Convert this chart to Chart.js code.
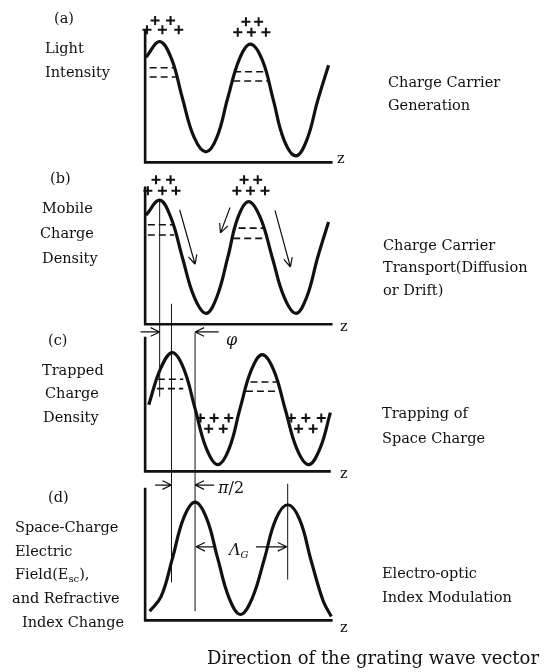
<!DOCTYPE html>
<html>
<head>
<meta charset="utf-8">
<script src="https://cdn.jsdelivr.net/npm/chart.js@4.4.1/dist/chart.umd.min.js"></script>
<style>
    html, body { margin: 0; padding: 0; background: #fff; }
    #wrap { position: relative; width: 549px; height: 672px; overflow: hidden; }
    #wrap canvas { position: absolute; left: 0; top: 0; }
    .t { position: absolute; transform: translateY(-50%); white-space: nowrap;
         font-family: "DejaVu Serif", serif; font-size: 14.5px; color: #111; line-height: 1; }
    .big { font-size: 16px; }
    .foot { font-size: 18px; }
    sub { font-size: 10px; vertical-align: -3px; }
</style>
</head>
<body>
<div id="wrap">
    <canvas id="fig" width="549" height="672"></canvas>

    <!-- nhãn bên trái -->
    <div class="t" style="left:54px;top:18px">(a)</div>
    <div class="t" style="left:45px;top:48px">Light</div>
    <div class="t" style="left:45px;top:72px">Intensity</div>

    <div class="t" style="left:50px;top:178px">(b)</div>
    <div class="t" style="left:42px;top:208px">Mobile</div>
    <div class="t" style="left:40px;top:233px">Charge</div>
    <div class="t" style="left:42px;top:258px">Density</div>

    <div class="t" style="left:48px;top:340px">(c)</div>
    <div class="t" style="left:42px;top:370px">Trapped</div>
    <div class="t" style="left:45px;top:393px">Charge</div>
    <div class="t" style="left:43px;top:417px">Density</div>

    <div class="t" style="left:48px;top:497px">(d)</div>
    <div class="t" style="left:15px;top:527px">Space-Charge</div>
    <div class="t" style="left:15px;top:551px">Electric</div>
    <div class="t" style="left:15px;top:575px">Field(E<sub>sc</sub>),</div>
    <div class="t" style="left:12px;top:598px">and Refractive</div>
    <div class="t" style="left:22px;top:622px">Index Change</div>

    <!-- nhãn bên phải -->
    <div class="t" style="left:388px;top:82px">Charge Carrier</div>
    <div class="t" style="left:388px;top:105px">Generation</div>
    <div class="t" style="left:383px;top:245px">Charge Carrier</div>
    <div class="t" style="left:383px;top:267px">Transport(Diffusion</div>
    <div class="t" style="left:383px;top:290px">or Drift)</div>
    <div class="t" style="left:382px;top:413px">Trapping of</div>
    <div class="t" style="left:382px;top:438px">Space Charge</div>
    <div class="t" style="left:382px;top:573px">Electro-optic</div>
    <div class="t" style="left:382px;top:597px">Index Modulation</div>

    <!-- trục z -->
    <div class="t" style="left:337px;top:158px">z</div>
    <div class="t" style="left:340px;top:326px">z</div>
    <div class="t" style="left:340px;top:473px">z</div>
    <div class="t" style="left:340px;top:627px">z</div>

    <!-- ký hiệu -->
    <div class="t big" style="left:226px;top:340px"><i>φ</i></div>
    <div class="t big" style="left:218px;top:488px"><i>π</i>/2</div>
    <div class="t big" style="left:229px;top:551px"><i>Λ</i><sub><i>G</i></sub></div>

    <div class="t foot" style="left:207px;top:658px">Direction of the grating wave vector</div>
</div>

<script>
// Dữ liệu các đường cong (z tính theo chu kỳ cách tử, y chuẩn hoá 0..1)
// (a) cường độ ánh sáng
const zA = [0.01, 0.16, 0.29, 0.41, 0.54, 0.67, 0.79, 0.91, 1.04, 1.16, 1.29, 1.41, 1.53, 1.66, 1.78, 1.90, 2.02];
const lightA = [0.80, 0.92, 0.79, 0.49, 0.19, 0.08, 0.19, 0.49, 0.79, 0.90, 0.78, 0.48, 0.17, 0.05, 0.17, 0.47, 0.74];
// (b) mật độ điện tích tự do
const zB = [0.01, 0.16, 0.285, 0.41, 0.54, 0.67, 0.79, 0.91, 1.02, 1.14, 1.27, 1.40, 1.53, 1.66, 1.78, 1.90, 2.02];
const mobileB = [0.80, 0.91, 0.78, 0.49, 0.20, 0.08, 0.20, 0.49, 0.78, 0.90, 0.78, 0.49, 0.20, 0.08, 0.20, 0.49, 0.75];
// (c) mật độ điện tích bị bẫy
const zC = [0.04, 0.17, 0.30, 0.425, 0.55, 0.675, 0.80, 0.925, 1.045, 1.17, 1.29, 1.415, 1.545, 1.67, 1.80, 1.925, 2.04];
const trappedC = [0.50, 0.77, 0.89, 0.77, 0.47, 0.17, 0.05, 0.17, 0.47, 0.76, 0.875, 0.76, 0.46, 0.17, 0.05, 0.17, 0.44];
// (d) trường điện tích không gian
const zD = [0.05, 0.175, 0.30, 0.425, 0.55, 0.675, 0.80, 0.925, 1.05, 1.18, 1.31, 1.44, 1.57, 1.70, 1.83, 1.96, 2.05];
const fieldD = [0.07, 0.18, 0.47, 0.78, 0.90, 0.78, 0.47, 0.17, 0.045, 0.17, 0.46, 0.77, 0.88, 0.77, 0.45, 0.15, 0.03];

// Các vạch đứt nét: [z bắt đầu, z kết thúc, mức y]
const dashA = [[0.05, 0.33, 0.72], [0.05, 0.35, 0.65], [0.98, 1.30, 0.69], [0.97, 1.35, 0.62]];
const dashB = [[0.03, 0.32, 0.73], [0.03, 0.32, 0.655], [1.03, 1.32, 0.705], [0.97, 1.35, 0.63]];
const dashC = [[0.14, 0.42, 0.69], [0.13, 0.42, 0.62], [1.16, 1.45, 0.67], [1.11, 1.46, 0.60]];

// Dấu "+" (điện tích)
const plusAz = [0.11, 0.28, 0.02, 0.19, 0.37, 1.11, 1.25, 1.02, 1.17, 1.33];
const plusAy = [1.08, 1.08, 1.01, 1.01, 1.01, 1.07, 1.07, 0.99, 0.99, 0.99];
const plusBz = [0.12, 0.28, 0.03, 0.19, 0.34, 1.09, 1.24, 1.01, 1.16, 1.32];
const plusBy = [1.06, 1.06, 0.98, 0.98, 0.98, 1.06, 1.06, 0.98, 0.98, 0.98];
const plusCz = [0.61, 0.76, 0.92, 0.70, 0.86, 1.61, 1.77, 1.94, 1.69, 1.85];
const plusCy = [0.40, 0.40, 0.40, 0.32, 0.32, 0.40, 0.40, 0.40, 0.32, 0.32];

// Đường dóng thẳng đứng: z, điểm trên [thang, y], điểm dưới [thang, y]
const guideZ = [0.16, 0.29, 0.55, 1.57];
const guideTop = [['yb', 0.91], ['yb', 0.15], ['yc', 1.04], ['yd', 1.04]];
const guideBottom = [['yc', 0.56], ['yd', 0.29], ['yd', 0.07], ['yd', 0.31]];

// Mũi tên: [thang, z đầu, y đầu, z cuối, y cuối]
const arrows = [
    ['yb', 0.38, 0.84, 0.55, 0.44],
    ['yb', 0.935, 0.856, 0.83, 0.67],
    ['yb', 1.43, 0.835, 1.60, 0.42],
    ['yc', -0.05, 1.045, 0.16, 1.045],   // φ
    ['yc', 0.81, 1.045, 0.55, 1.045],
    ['yd', 0.11, 1.03, 0.29, 1.03],      // π/2
    ['yd', 0.76, 1.03, 0.55, 1.03],
    ['yd', 0.77, 0.56, 0.56, 0.56],      // Λ_G
    ['yd', 1.22, 0.56, 1.56, 0.56]
];

// Bố cục: vị trí từng khung trên trang (pixel)
const W = 549, H = 672, AXIS_X = 142, PX_PER_Z = 93;
const PANELS = [
    { id: 'ya', base: 159, top: 25, end: 2.05 },
    { id: 'yb', base: 324, top: 185, end: 2.05 },
    { id: 'yc', base: 474, top: 338, end: 2.03 },
    { id: 'yd', base: 626, top: 492, end: 2.05 }
];

const INK = '#111';

function toPoints(zs, ys) {
    return zs.map((z, i) => ({ x: z, y: ys[i] }));
}

function curve(zs, ys, axis) {
    return {
        data: toPoints(zs, ys), yAxisID: axis,
        borderColor: INK, borderWidth: 3.2, pointRadius: 0,
        tension: 0.4, fill: false, clip: false
    };
}

function dashes(list, axis) {
    const data = [];
    list.forEach(d => {
        data.push({ x: d[0], y: d[2] }, { x: d[1], y: d[2] }, { x: null, y: null });
    });
    return {
        data: data, yAxisID: axis, spanGaps: false, tension: 0,
        borderColor: INK, borderWidth: 1.6, borderDash: [7, 4],
        pointRadius: 0, fill: false, clip: false
    };
}

function pluses(zs, ys, axis) {
    return {
        type: 'scatter', data: toPoints(zs, ys), yAxisID: axis,
        pointStyle: 'cross', pointRadius: 4.5, borderWidth: 2,
        borderColor: INK, backgroundColor: INK, clip: false
    };
}

// Plugin vẽ trục, đường dóng và mũi tên qua các thang của Chart.js
const annotate = {
    id: 'annotate',
    afterDatasetsDraw(chart) {
        const ctx = chart.ctx;
        const sx = chart.scales.x;
        ctx.save();
        ctx.strokeStyle = INK;
        ctx.lineCap = 'square';

        // trục của từng khung
        PANELS.forEach(p => {
            const sy = chart.scales[p.id];
            ctx.lineWidth = 2.6;
            ctx.beginPath();
            ctx.moveTo(sx.getPixelForValue(0), sy.getPixelForValue(1));
            ctx.lineTo(sx.getPixelForValue(0), sy.getPixelForValue(0));
            ctx.lineTo(sx.getPixelForValue(p.end), sy.getPixelForValue(0));
            ctx.stroke();
        });

        // đường dóng
        ctx.lineCap = 'butt';
        ctx.lineWidth = 1;
        guideZ.forEach((z, i) => {
            const px = sx.getPixelForValue(z);
            ctx.beginPath();
            ctx.moveTo(px, chart.scales[guideTop[i][0]].getPixelForValue(guideTop[i][1]));
            ctx.lineTo(px, chart.scales[guideBottom[i][0]].getPixelForValue(guideBottom[i][1]));
            ctx.stroke();
        });

        // mũi tên
        ctx.lineWidth = 1.2;
        arrows.forEach(a => {
            const sy = chart.scales[a[0]];
            const x0 = sx.getPixelForValue(a[1]), y0 = sy.getPixelForValue(a[2]);
            const x1 = sx.getPixelForValue(a[3]), y1 = sy.getPixelForValue(a[4]);
            const ang = Math.atan2(y1 - y0, x1 - x0);
            ctx.beginPath();
            ctx.moveTo(x0, y0);
            ctx.lineTo(x1, y1);
            [-0.45, 0.45].forEach(d => {
                ctx.moveTo(x1, y1);
                ctx.lineTo(x1 - 10 * Math.cos(ang + d), y1 - 10 * Math.sin(ang + d));
            });
            ctx.stroke();
        });
        ctx.restore();
    }
};

function buildScales() {
    const scales = {
        x: {
            type: 'linear', display: false,
            min: -AXIS_X / PX_PER_Z, max: (W - AXIS_X) / PX_PER_Z
        }
    };
    PANELS.forEach(p => {
        const k = p.base - p.top;  // pixel cho 1 đơn vị
        scales[p.id] = {
            type: 'linear', display: false,
            min: -(H - p.base) / k, max: p.base / k
        };
    });
    return scales;
}

document.addEventListener('DOMContentLoaded', function () {
    const ctx = document.getElementById('fig').getContext('2d');
    new Chart(ctx, {
        type: 'line',
        data: {
            datasets: [
                curve(zA, lightA, 'ya'),
                curve(zB, mobileB, 'yb'),
                curve(zC, trappedC, 'yc'),
                curve(zD, fieldD, 'yd'),
                dashes(dashA, 'ya'),
                dashes(dashB, 'yb'),
                dashes(dashC, 'yc'),
                pluses(plusAz, plusAy, 'ya'),
                pluses(plusBz, plusBy, 'yb'),
                pluses(plusCz, plusCy, 'yc')
            ]
        },
        options: {
            responsive: false,
            animation: false,
            layout: { padding: 0 },
            scales: buildScales(),
            plugins: {
                legend: { display: false },
                tooltip: { enabled: false },
                title: { display: false }
            }
        },
        plugins: [annotate]
    });
});
</script>
</body>
</html>
